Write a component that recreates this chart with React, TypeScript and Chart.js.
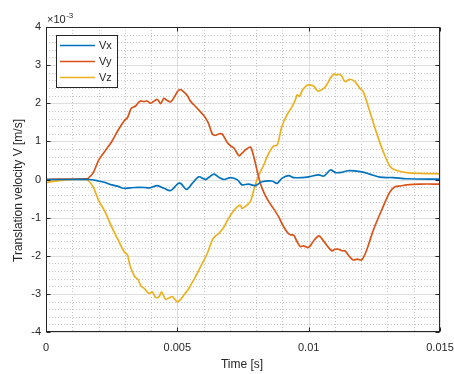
import React, { useEffect, useRef } from "react";
import { Chart, registerables } from "chart.js";

Chart.register(...registerables);

// time in ms, values in 1e-3 m/s
const vxTime = [0, 1.0, 1.65, 2.0, 2.25, 2.5, 2.75, 2.94, 3.2, 3.38, 3.73, 3.95, 4.24, 4.49, 4.75, 5.0, 5.12, 5.35, 5.57, 5.82, 6.0, 6.08, 6.39, 6.6, 6.78, 7.03, 7.29, 7.46, 7.71, 7.97, 8.22, 8.6, 8.8, 8.98, 9.24, 9.43, 9.75, 10.0, 10.38, 10.58, 10.83, 11.02, 11.27, 11.51, 12.02, 12.33, 12.71, 13.22, 13.73, 15.0];
const vxValues = [0, 0.0, 0.0, -0.04, -0.08, -0.14, -0.18, -0.23, -0.22, -0.21, -0.21, -0.22, -0.16, -0.23, -0.29, -0.12, -0.1, -0.26, -0.1, 0.07, 0.02, 0.0, 0.14, 0.05, 0.0, 0.05, -0.01, -0.14, -0.12, -0.16, -0.06, -0.04, -0.1, 0.03, 0.1, 0.05, 0.05, 0.07, 0.12, 0.09, 0.25, 0.18, 0.19, 0.23, 0.2, 0.14, 0.06, 0.05, 0.02, 0.01];

const vyTime = [0, 0.5, 1.0, 1.5, 1.6, 1.8, 2.0, 2.25, 2.5, 2.75, 3.0, 3.1, 3.25, 3.4, 3.5, 3.6, 3.73, 3.85, 3.98, 4.1, 4.24, 4.36, 4.49, 4.6, 4.75, 4.9, 5.0, 5.1, 5.19, 5.38, 5.5, 5.63, 5.82, 5.95, 6.08, 6.2, 6.27, 6.35, 6.46, 6.6, 6.71, 6.9, 7.05, 7.16, 7.35, 7.46, 7.6, 7.78, 7.87, 7.97, 8.16, 8.3, 8.48, 8.65, 8.86, 9.0, 9.17, 9.3, 9.43, 9.55, 9.68, 9.8, 10.0, 10.2, 10.38, 10.5, 10.64, 10.8, 10.89, 11.0, 11.14, 11.27, 11.38, 11.55, 11.7, 11.85, 12.02, 12.21, 12.46, 12.78, 13.1, 13.29, 13.5, 13.73, 14.24, 15.0];
const vyValues = [0, 0.01, 0.01, 0.02, 0.03, 0.18, 0.5, 0.75, 0.99, 1.3, 1.56, 1.62, 1.87, 1.92, 2.0, 2.06, 2.04, 2.06, 2.0, 2.05, 2.1, 1.99, 2.13, 2.08, 2.04, 2.18, 2.3, 2.36, 2.33, 2.2, 2.05, 1.96, 1.82, 1.72, 1.61, 1.45, 1.3, 1.18, 1.16, 1.2, 1.19, 0.97, 0.87, 0.82, 0.62, 0.69, 0.78, 0.85, 0.7, 0.43, -0.1, -0.35, -0.58, -0.75, -0.98, -1.18, -1.37, -1.45, -1.46, -1.62, -1.76, -1.74, -1.78, -1.6, -1.48, -1.55, -1.68, -1.82, -1.87, -1.83, -1.83, -1.87, -1.87, -2.02, -2.11, -2.09, -2.11, -1.85, -1.33, -0.8, -0.32, -0.19, -0.17, -0.14, -0.12, -0.12];

const vzTime = [0, 0.5, 1.0, 1.5, 1.6, 1.8, 2.0, 2.25, 2.5, 2.75, 3.0, 3.1, 3.19, 3.38, 3.5, 3.63, 3.73, 3.92, 4.05, 4.17, 4.3, 4.4, 4.55, 4.7, 4.81, 5.0, 5.12, 5.25, 5.4, 5.51, 5.65, 5.76, 5.95, 6.14, 6.33, 6.45, 6.59, 6.78, 6.9, 7.03, 7.15, 7.29, 7.41, 7.46, 7.6, 7.78, 7.9, 8.03, 8.16, 8.29, 8.48, 8.67, 8.8, 8.98, 9.17, 9.37, 9.5, 9.56, 9.65, 9.75, 9.9, 10.0, 10.19, 10.3, 10.38, 10.58, 10.7, 10.83, 10.96, 11.05, 11.14, 11.25, 11.38, 11.57, 11.76, 11.95, 12.08, 12.33, 12.59, 12.84, 13.1, 13.29, 13.73, 14.24, 15.0];
const vzValues = [-0.08, -0.03, 0.0, 0.0, -0.02, -0.2, -0.54, -0.85, -1.24, -1.59, -1.92, -1.97, -2.24, -2.55, -2.62, -2.81, -2.85, -2.99, -2.95, -3.09, -3.08, -2.95, -3.14, -3.1, -3.07, -3.21, -3.15, -3.03, -2.9, -2.77, -2.6, -2.46, -2.2, -1.94, -1.59, -1.48, -1.41, -1.24, -1.08, -0.93, -0.82, -0.71, -0.68, -0.76, -0.7, -0.58, -0.3, -0.01, 0.2, 0.38, 0.69, 0.88, 0.9, 1.39, 1.69, 1.91, 2.1, 2.22, 2.18, 2.33, 2.45, 2.48, 2.45, 2.35, 2.32, 2.39, 2.5, 2.66, 2.77, 2.74, 2.76, 2.72, 2.57, 2.63, 2.57, 2.39, 2.3, 1.78, 1.21, 0.73, 0.34, 0.25, 0.18, 0.16, 0.15];

const seriesNames = ["Vx", "Vy", "Vz"];
const seriesColors = ["#0072BD", "#D95319", "#EDB120"];
const xTickLabels = ["0", "0.005", "0.01", "0.015"];
const yTickLabels = ["-4", "-3", "-2", "-1", "0", "1", "2", "3", "4"];
const xTitle = "Time [s]";
const yTitle = "Translation velocity V [m/s]";

const FONT = "'Liberation Sans', Arial, Helvetica, sans-serif";
const TXT = "#262626";

const toPoints = (t: number[], v: number[]) => t.map((ti, i) => ({ x: ti / 1000, y: v[i] }));

const axesPlugin = {
  id: "matlabAxes",
  beforeDatasetsDraw(chart: any) {
    const { ctx, chartArea: a, scales } = chart;
    const xs = scales.x, ys = scales.y;
    ctx.save();
    // minor grid
    ctx.strokeStyle = "#c4c4c4";
    ctx.lineWidth = 1;
    ctx.setLineDash([1, 2]);
    for (let i = 0; i <= 15; i++) {
      if (i % 5 === 0) continue;
      const px = Math.round(xs.getPixelForValue(i * 0.001)) + 0.5;
      ctx.beginPath(); ctx.moveTo(px, a.top); ctx.lineTo(px, a.bottom); ctx.stroke();
    }
    for (let i = -20; i <= 20; i++) {
      if (i % 5 === 0) continue;
      const py = Math.round(ys.getPixelForValue(i * 0.2)) + 0.5;
      ctx.beginPath(); ctx.moveTo(a.left, py); ctx.lineTo(a.right, py); ctx.stroke();
    }
    // major grid
    ctx.setLineDash([]);
    ctx.strokeStyle = "#dedede";
    for (let i = 0; i < xTickLabels.length; i++) {
      const px = Math.round(xs.getPixelForValue(i * 0.005)) + 0.5;
      ctx.beginPath(); ctx.moveTo(px, a.top); ctx.lineTo(px, a.bottom); ctx.stroke();
    }
    for (let i = 0; i < yTickLabels.length; i++) {
      const py = Math.round(ys.getPixelForValue(-4 + i)) + 0.5;
      ctx.beginPath(); ctx.moveTo(a.left, py); ctx.lineTo(a.right, py); ctx.stroke();
    }
    ctx.restore();
  },
  afterDatasetsDraw(chart: any) {
    const { ctx, chartArea: a, scales } = chart;
    const xs = scales.x, ys = scales.y;
    ctx.save();
    const L = Math.round(a.left) + 0.5, R = Math.round(a.right) - 0.5;
    const T = Math.round(a.top) + 0.5, B = Math.round(a.bottom) - 0.5;
    ctx.strokeStyle = TXT;
    ctx.lineWidth = 1;
    ctx.strokeRect(L, T, R - L, B - T);
    const tl = 4;
    for (let i = 0; i < xTickLabels.length; i++) {
      const px = Math.round(xs.getPixelForValue(i * 0.005)) + 0.5;
      ctx.beginPath();
      ctx.moveTo(px, B); ctx.lineTo(px, B - tl);
      ctx.moveTo(px, T); ctx.lineTo(px, T + tl);
      ctx.stroke();
    }
    for (let i = 0; i < yTickLabels.length; i++) {
      const py = Math.round(ys.getPixelForValue(-4 + i)) + 0.5;
      ctx.beginPath();
      ctx.moveTo(L, py); ctx.lineTo(L + tl, py);
      ctx.moveTo(R, py); ctx.lineTo(R - tl, py);
      ctx.stroke();
    }
    // exponent label
    ctx.fillStyle = TXT;
    ctx.textBaseline = "alphabetic";
    ctx.textAlign = "left";
    ctx.font = `11px ${FONT}`;
    ctx.fillText("×10", a.left + 1, a.top - 4);
    const w = ctx.measureText("×10").width;
    ctx.font = `8px ${FONT}`;
    ctx.fillText("-3", a.left + 1 + w + 0.5, a.top - 9);
    // axis titles
    ctx.font = `12px ${FONT}`;
    ctx.textAlign = "center";
    ctx.textBaseline = "alphabetic";
    ctx.fillText(xTitle, (a.left + a.right) / 2 - 1, 368);
    ctx.save();
    ctx.translate(22, (a.top + a.bottom) / 2 + 11);
    ctx.rotate(-Math.PI / 2);
    ctx.fillText(yTitle, 0, 0);
    ctx.restore();
    // legend
    const lx = 56.5, ly = 35.5, lw = 61, lh = 52;
    ctx.fillStyle = "#ffffff";
    ctx.fillRect(lx, ly, lw, lh);
    ctx.strokeStyle = TXT;
    ctx.lineWidth = 1;
    ctx.strokeRect(lx, ly, lw, lh);
    ctx.font = `11px ${FONT}`;
    ctx.textAlign = "left";
    ctx.textBaseline = "middle";
    chart.data.datasets.forEach((ds: any, i: number) => {
      const y = 45.5 + i * 16;
      ctx.strokeStyle = ds.borderColor;
      ctx.lineWidth = 1.7;
      ctx.beginPath(); ctx.moveTo(60, y); ctx.lineTo(95, y); ctx.stroke();
      ctx.fillStyle = TXT;
      ctx.fillText(ds.label, 99, y + 0.5);
    });
    ctx.restore();
  },
};

export default function App() {
  const ref = useRef<HTMLCanvasElement | null>(null);
  useEffect(() => {
    if (!ref.current) return;
    const chart = new Chart(ref.current, {
      type: "line",
      data: {
        datasets: [
          { label: seriesNames[0], data: toPoints(vxTime, vxValues), borderColor: seriesColors[0] },
          { label: seriesNames[1], data: toPoints(vyTime, vyValues), borderColor: seriesColors[1] },
          { label: seriesNames[2], data: toPoints(vzTime, vzValues), borderColor: seriesColors[2] },
        ].map((d) => ({ ...d, borderWidth: 1.7, pointRadius: 0, tension: 0.3, fill: false })),
      },
      options: {
        animation: false,
        responsive: false,
        layout: { padding: { left: 0, top: 27, right: 14, bottom: 0 } },
        plugins: { legend: { display: false }, tooltip: { enabled: false } },
        scales: {
          x: {
            type: "linear",
            min: 0,
            max: 0.015,
            grid: { display: false, drawTicks: false },
            border: { display: false },
            afterFit: (s: any) => { s.height = 42; s.paddingLeft = 0; s.paddingRight = 0; },
            afterBuildTicks: (s: any) => { s.ticks = xTickLabels.map((_, i) => ({ value: i * 0.005 })); },
            ticks: {
              padding: 9,
              color: TXT,
              font: { family: FONT, size: 11 },
              maxRotation: 0,
              callback: (_v: any, i: number) => xTickLabels[i],
            },
          },
          y: {
            type: "linear",
            min: -4,
            max: 4,
            grid: { display: false, drawTicks: false },
            border: { display: false },
            afterFit: (s: any) => { s.width = 46; s.paddingTop = 0; s.paddingBottom = 0; },
            afterBuildTicks: (s: any) => { s.ticks = yTickLabels.map((_, i) => ({ value: -4 + i })); },
            ticks: {
              padding: 5,
              color: TXT,
              font: { family: FONT, size: 11 },
              callback: (_v: any, i: number) => yTickLabels[i],
            },
          },
        },
      },
      plugins: [axesPlugin],
    } as any);
    return () => chart.destroy();
  }, []);
  return (
    <div style={{ position: "fixed", left: 0, top: 0, width: 454, height: 374, background: "#fff" }}>
      <canvas ref={ref} width={454} height={374} style={{ display: "block" }} />
    </div>
  );
}
